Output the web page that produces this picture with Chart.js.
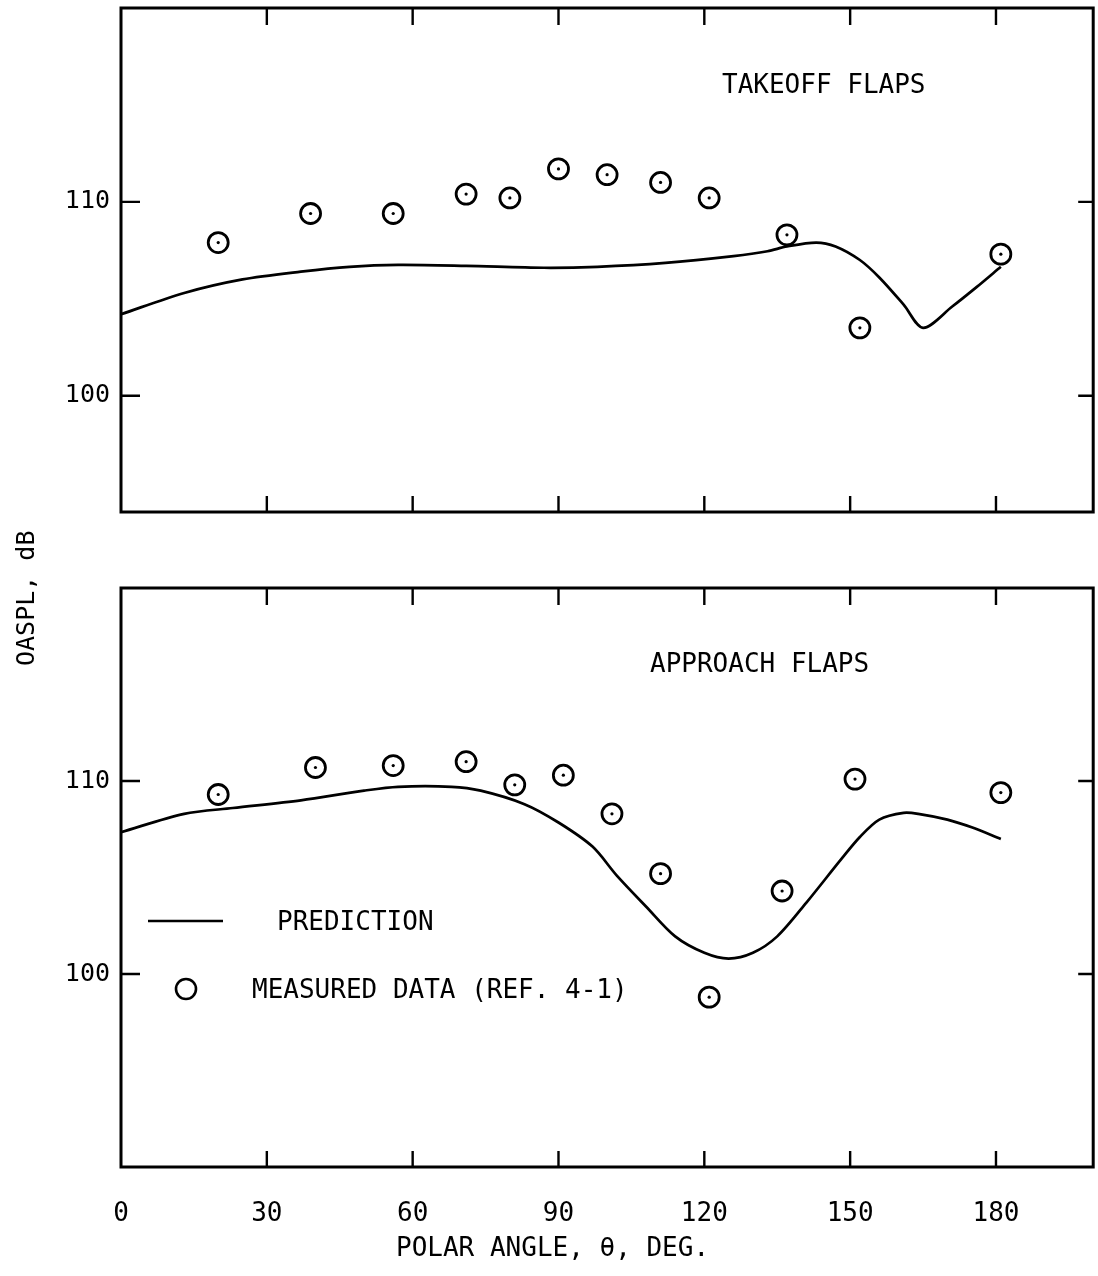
<!DOCTYPE html>
<html>
<head>
<meta charset="utf-8">
<script src="https://cdn.jsdelivr.net/npm/chart.js@4.4.1/dist/chart.umd.min.js"></script>
<style>
body { margin: 0; background: #fff; }
#page { position: relative; width: 1098px; height: 1276px; font-family: 'DejaVu Sans Mono', monospace; color: #000; overflow: hidden; }
#page canvas { position: absolute; left: 0; }
.lbl { position: absolute; font-size: 26px; line-height: 26px; white-space: pre; }
</style>
</head>
<body>
<div id="page">
    <canvas id="takeoffChart" width="1106" height="580" style="top:-20px"></canvas>
    <canvas id="approachChart" width="1106" height="716" style="top:560px"></canvas>

    <div class="lbl" style="left:722px; top:71px;">TAKEOFF FLAPS</div>
    <div class="lbl" style="left:650px; top:650px;">APPROACH FLAPS</div>
    <div class="lbl" style="left:277px; top:908px;">PREDICTION</div>
    <div class="lbl" style="left:252px; top:976px;">MEASURED DATA (REF. 4-1)</div>
    <div class="lbl" style="left:396px; top:1234px;">POLAR ANGLE, θ, DEG.</div>
    <div class="lbl" style="left:-32px; top:595px; font-size:25px; transform: rotate(-90deg); transform-origin: 58px 13px;">OASPL, dB</div>
</div>

<script>
// x axis (polar angle, deg)
const xTickValues = [0, 30, 60, 90, 120, 150, 180];
const yTickValues = [100, 110];

// takeoff flaps - measured points
const takeoffAngles = [20, 39, 56, 71, 80, 90, 100, 111, 121, 137, 152, 181];
const takeoffMeasured = [107.9, 109.4, 109.4, 110.4, 110.2, 111.7, 111.4, 111.0, 110.2, 108.3, 103.5, 107.3];

// takeoff flaps - prediction curve
const takeoffPredAngles = [0, 13, 25, 37, 47, 57, 71, 87, 98, 112, 126, 133, 137, 143, 147, 152, 156, 161, 165, 171, 176, 181];
const takeoffPred = [104.2, 105.3, 106.0, 106.4, 106.65, 106.75, 106.7, 106.6, 106.65, 106.85, 107.2, 107.45, 107.7, 107.9, 107.7, 107.0, 106.1, 104.7, 103.5, 104.6, 105.6, 106.65];

// approach flaps - measured points
const approachAngles = [20, 40, 56, 71, 81, 91, 101, 111, 121, 136, 151, 181];
const approachMeasured = [109.3, 110.7, 110.8, 111.0, 109.8, 110.3, 108.3, 105.2, 98.8, 104.3, 110.1, 109.4];

// approach flaps - prediction curve
const approachPredAngles = [0, 13, 23, 37, 50, 57, 68, 74, 83, 90, 97, 102, 108, 114, 120, 125, 130, 135, 141, 148, 152, 156, 161, 164, 170, 175, 181];
const approachPred = [107.35, 108.3, 108.6, 109.0, 109.5, 109.7, 109.7, 109.5, 108.8, 107.85, 106.6, 105.1, 103.5, 101.95, 101.1, 100.8, 101.1, 101.95, 103.7, 105.9, 107.1, 108.0, 108.35, 108.3, 108.0, 107.6, 107.0];

const FONT = "'DejaVu Sans Mono', monospace";

// box round the plot plus inward tick marks
const framePlugin = {
    id: 'frame',
    afterDatasetsDraw(chart) {
        const ctx = chart.ctx;
        const a = chart.chartArea;
        const x = chart.scales.x;
        const y = chart.scales.y;
        ctx.save();
        ctx.strokeStyle = '#000';
        ctx.lineWidth = 3;
        ctx.strokeRect(a.left, a.top, a.right - a.left, a.bottom - a.top);
        ctx.lineWidth = 2.4;
        ctx.beginPath();
        xTickValues.forEach(v => {
            if (v <= x.min) return;
            const px = x.getPixelForValue(v);
            ctx.moveTo(px, a.bottom);
            ctx.lineTo(px, a.bottom - 16);
            ctx.moveTo(px, a.top);
            ctx.lineTo(px, a.top + 17);
        });
        yTickValues.forEach(v => {
            const py = y.getPixelForValue(v);
            ctx.moveTo(a.left, py);
            ctx.lineTo(a.left + 19, py);
            ctx.moveTo(a.right, py);
            ctx.lineTo(a.right - 15, py);
        });
        ctx.stroke();
        ctx.restore();
    }
};

// legend symbols inside the approach panel
const legendPlugin = {
    id: 'legendMarks',
    afterDatasetsDraw(chart) {
        if (!chart.options.plugins.legendMarks) return;
        const ctx = chart.ctx;
        const a = chart.chartArea;
        ctx.save();
        ctx.strokeStyle = '#000';
        ctx.lineWidth = 2.6;
        ctx.beginPath();
        ctx.moveTo(a.left + 27, a.top + 333);
        ctx.lineTo(a.left + 102, a.top + 333);
        ctx.stroke();
        ctx.beginPath();
        ctx.arc(a.left + 65, a.top + 401, 10, 0, Math.PI * 2);
        ctx.stroke();
        ctx.restore();
    }
};

function toPoints(xs, ys) {
    return xs.map((v, i) => ({ x: v, y: ys[i] }));
}

function createPanel(id, angles, measured, predAngles, pred, yMin, yMax, showXLabels, padTop, xAxisHeight, withLegend) {
    const ctx = document.getElementById(id).getContext('2d');
    return new Chart(ctx, {
        type: 'scatter',
        data: {
            datasets: [{
                label: 'PREDICTION',
                data: toPoints(predAngles, pred),
                showLine: true,
                borderColor: '#000',
                borderWidth: 2.7,
                pointRadius: 0,
                tension: 0.3,
                fill: false
            }, {
                label: 'MEASURED DATA (REF. 4-1)',
                data: toPoints(angles, measured),
                showLine: false,
                pointRadius: 10,
                pointBorderWidth: 2.8,
                pointBorderColor: '#000',
                pointBackgroundColor: 'rgba(0,0,0,0)'
            }, {
                label: 'centre dots',
                data: toPoints(angles, measured),
                showLine: false,
                pointRadius: 1.6,
                pointBorderWidth: 0,
                pointBackgroundColor: '#000'
            }]
        },
        options: {
            responsive: false,
            animation: false,
            layout: { padding: { top: padTop, right: 5, left: 0, bottom: 0 } },
            plugins: {
                legend: { display: false },
                tooltip: { enabled: false },
                legendMarks: withLegend
            },
            scales: {
                x: {
                    type: 'linear',
                    min: 0,
                    max: 200,
                    afterBuildTicks: s => { s.ticks = xTickValues.map(v => ({ value: v })); },
                    afterFit: s => { s.height = xAxisHeight; },
                    grid: { display: false, drawTicks: false },
                    border: { display: false },
                    ticks: {
                        display: showXLabels,
                        color: '#000',
                        font: { family: FONT, size: 26 },
                        padding: 32,
                        maxRotation: 0,
                        autoSkip: false
                    }
                },
                y: {
                    min: yMin,
                    max: yMax,
                    afterBuildTicks: s => { s.ticks = yTickValues.map(v => ({ value: v })); },
                    afterFit: s => { s.width = 121; },
                    grid: { display: false, drawTicks: false },
                    border: { display: false },
                    ticks: {
                        color: '#000',
                        font: { family: FONT, size: 25 },
                        padding: 11
                    }
                }
            }
        },
        plugins: [framePlugin, legendPlugin]
    });
}

createPanel('takeoffChart', takeoffAngles, takeoffMeasured, takeoffPredAngles, takeoffPred, 94, 120, false, 28, 48, false);
createPanel('approachChart', approachAngles, approachMeasured, approachPredAngles, approachPred, 90, 120, true, 28, 109, true);
</script>
</body>
</html>
